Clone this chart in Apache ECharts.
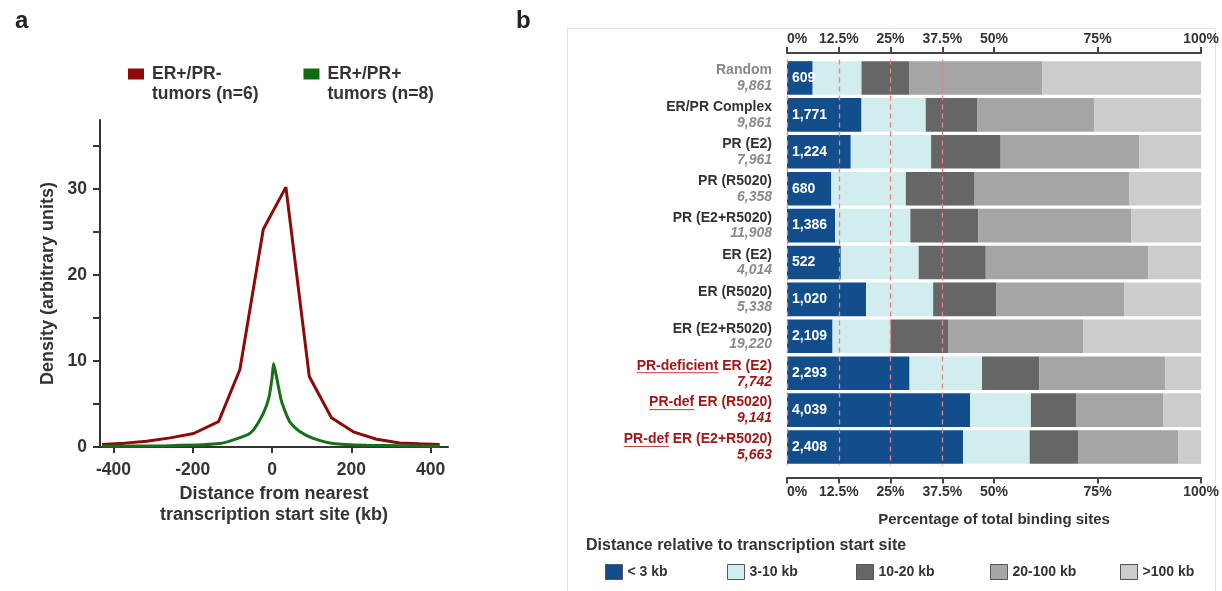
<!DOCTYPE html>
<html><head><meta charset="utf-8">
<script src="https://cdn.jsdelivr.net/npm/echarts@6/dist/echarts.min.js"></script>
<style>html,body{margin:0;padding:0;background:#fff}#c{width:1222px;height:591px}</style>
</head><body><div id="c"></div>
<script>
// ---------- Panel a data ----------
const seriesNamesA = ['ER+/PR-\ntumors (n=6)', 'ER+/PR+\ntumors (n=8)'];
const redCurve = [[-429,0.3],[-372,0.45],[-316,0.67],[-257,1.06],[-198,1.57],[-135,2.94],[-81,9.0],[-22,25.3],[35,30.2],[94,8.2],[150,3.4],[205,1.76],[264,0.9],[322,0.47],[372,0.38],[423,0.3]];
const greenCurve = [[-429,0.1],[-265,0.15],[-131,0.4],[-64,1.37],[-47,1.96],[-22,3.9],[-8,5.7],[0,8.0],[4,9.7],[12,8.0],[24,5.3],[45,2.9],[70,1.8],[104,1.0],[154,0.4],[238,0.2],[423,0.1]];
const densityTicks = [0,5,10,15,20,25,30,35];
const densityLabels = [0,10,20,30];
const distanceTicks = [-400,-200,0,200,400];

// ---------- Panel b data ----------
const categories = ['Random','ER/PR Complex','PR (E2)','PR (R5020)','PR (E2+R5020)','ER (E2)','ER (R5020)','ER (E2+R5020)','PR-deficient ER (E2)','PR-def ER (R5020)','PR-def ER (E2+R5020)'];
const totals = ['9,861','9,861','7,961','6,358','11,908','4,014','5,338','19,220','7,742','9,141','5,663'];
const under3Counts = ['609','1,771','1,224','680','1,386','522','1,020','2,109','2,293','4,039','2,408'];
const deficientRows = [false,false,false,false,false,false,false,false,true,true,true];
const pctLt3 = [6.2,18.0,15.4,10.7,11.6,13.0,19.1,11.0,29.6,44.2,42.5];
const pct3to10 = [11.8,15.5,19.4,18.0,18.2,18.8,16.2,14.0,17.5,14.7,16.1];
const pct10to20 = [11.5,12.5,16.8,16.6,16.4,16.2,15.3,13.9,13.8,10.9,11.7];
const pct20to100 = [32.1,28.2,33.5,37.3,37.0,39.2,30.8,32.6,30.5,21.0,24.2];
const pctOver100 = [38.4,25.8,14.9,17.4,16.8,12.8,18.6,28.5,8.6,9.2,5.5];
const pctTicks = [0,12.5,25,37.5,50,75,100];
const refLines = [0,12.5,25,37.5];
const distanceClasses = ['< 3 kb','3-10 kb','10-20 kb','20-100 kb','>100 kb'];
const classColors = ['#114e8b','#d2eded','#666666','#a5a5a5','#cccccc'];
const legendLefts = [600, 722, 851, 985, 1115];

const F = 'Liberation Sans, Arial, sans-serif';
const TXT = '#333';

// underline image for rich text
const ul = document.createElement('canvas');
ul.width = 4; ul.height = 17;
const ctx = ul.getContext('2d');
ctx.fillStyle = '#c0392b';
ctx.fillRect(0, 15, 4, 1);

const chart = echarts.init(document.getElementById('c'), null, {renderer: 'canvas'});

const segs = [pctLt3, pct3to10, pct10to20, pct20to100, pctOver100];
const barSeries = segs.map((arr, i) => {
  const s = {
    name: distanceClasses[i], type: 'bar', stack: 'b', xAxisIndex: 1, yAxisIndex: 1,
    barCategoryGap: '9%', data: arr, itemStyle: {color: classColors[i]}, silent: true
  };
  if (i === 0) {
    s.label = {show: true, position: 'insideLeft', distance: 5, color: '#fff', fontFamily: F,
      fontWeight: 'bold', fontSize: 14, formatter: p => under3Counts[p.dataIndex]};
  }
  if (i === 4) {
    s.markLine = {silent: true, symbol: 'none', label: {show: false},
      lineStyle: {color: '#ee8080', type: [5, 4], width: 1.3},
      data: refLines.map(v => ({xAxis: v}))};
  }
  return s;
});

const legendB = distanceClasses.map((n, i) => ({
  data: [n], left: legendLefts[i], top: 559, itemWidth: 17, itemHeight: 15, icon: 'rect',
  itemStyle: {borderColor: '#555', borderWidth: 1},
  textStyle: {fontFamily: F, fontSize: 14, fontWeight: 'bold', color: TXT}
}));

const option = {
  animation: false,
  backgroundColor: '#fff',
  title: [
    {text: 'a', left: 10, top: 4, textStyle: {fontFamily: F, fontSize: 24, fontWeight: 'bold', color: '#222'}},
    {text: 'b', left: 511, top: 4, textStyle: {fontFamily: F, fontSize: 24, fontWeight: 'bold', color: '#222'}},
    {text: 'Distance relative to transcription start site', left: 581, top: 533,
      textStyle: {fontFamily: F, fontSize: 16, fontWeight: 'bold', color: TXT}}
  ],
  graphic: [{type: 'rect', shape: {x: 567.5, y: 28.5, width: 648, height: 570}, style: {fill: 'none', stroke: '#e2e2e2', lineWidth: 1}, z: -1}],
  legend: [
    {data: seriesNamesA, left: 128, top: 44, padding: 0, itemWidth: 16, itemHeight: 11, itemGap: 45, icon: 'rect',
      formatter: n => ' \n' + n,
      textStyle: {fontFamily: F, fontSize: 17.5, fontWeight: 'bold', color: TXT, lineHeight: 20, padding: [0, 0, 0, 3]}}
  ].concat(legendB),
  grid: [
    {left: 100, width: 348, top: 120, height: 327},
    {left: 787, width: 415, top: 59.5, height: 406}
  ],
  xAxis: [
    {gridIndex: 0, type: 'value', min: -434, max: 444,
      axisLine: {show: true, onZero: false, lineStyle: {color: '#333', width: 2}},
      axisTick: {show: true, length: 6, lineStyle: {color: '#333', width: 2}, customValues: distanceTicks},
      axisLabel: {customValues: distanceTicks, margin: 14, fontFamily: F, fontSize: 17.5, fontWeight: 'bold', color: TXT},
      splitLine: {show: false},
      name: 'Distance from nearest\ntranscription start site (kb)', nameLocation: 'middle', nameGap: 37,
      nameTextStyle: {fontFamily: F, fontSize: 18, fontWeight: 'bold', color: TXT, lineHeight: 21}},
    {gridIndex: 1, type: 'value', min: 0, max: 100, position: 'bottom', offset: 12,
      axisLine: {show: true, lineStyle: {color: '#444', width: 2}},
      axisTick: {show: true, length: 6, lineStyle: {color: '#444', width: 2}, customValues: pctTicks},
      axisLabel: {customValues: pctTicks, formatter: v => v + '%', margin: 8, alignMinLabel: 'left', fontFamily: F, fontSize: 14, fontWeight: 'bold', color: TXT},
      splitLine: {show: false},
      name: 'Percentage of total binding sites', nameLocation: 'middle', nameGap: 35,
      nameTextStyle: {fontFamily: F, fontSize: 15, fontWeight: 'bold', color: TXT}},
    {gridIndex: 1, type: 'value', min: 0, max: 100, position: 'top', offset: 6.5,
      axisLine: {show: true, lineStyle: {color: '#444', width: 2}},
      axisTick: {show: true, length: 6, lineStyle: {color: '#444', width: 2}, customValues: pctTicks},
      axisLabel: {customValues: pctTicks, formatter: v => v + '%', margin: 7, alignMinLabel: 'left', fontFamily: F, fontSize: 14, fontWeight: 'bold', color: TXT},
      splitLine: {show: false}}
  ],
  yAxis: [
    {gridIndex: 0, type: 'value', min: 0, max: 38,
      axisLine: {show: true, onZero: false, lineStyle: {color: '#333', width: 2}},
      axisTick: {show: true, length: 7, lineStyle: {color: '#333', width: 2}, customValues: densityTicks},
      axisLabel: {customValues: densityLabels, margin: 13, fontFamily: F, fontSize: 17.5, fontWeight: 'bold', color: TXT},
      splitLine: {show: false},
      name: 'Density (arbitrary units)', nameLocation: 'middle', nameGap: 43,
      nameTextStyle: {fontFamily: F, fontSize: 18, fontWeight: 'bold', color: TXT}},
    {gridIndex: 1, type: 'category', inverse: true, data: categories,
      axisLine: {show: false}, axisTick: {show: false},
      axisLabel: {margin: 15, lineHeight: 15,
        formatter: (v, i) => {
          if (deficientRows[i]) {
            const k = v.indexOf(' ');
            return '{u|' + v.slice(0, k) + '}{r|' + v.slice(k) + '}\n{tr|' + totals[i] + '}';
          }
          return (i === 0 ? '{ng|' : '{n|') + v + '}\n{t|' + totals[i] + '}';
        },
        rich: {
          n: {fontFamily: F, fontSize: 14, fontWeight: 'bold', color: TXT, lineHeight: 16},
          ng: {fontFamily: F, fontSize: 14, fontWeight: 'bold', color: '#888', lineHeight: 16},
          t: {fontFamily: F, fontSize: 14, fontWeight: 'bold', fontStyle: 'italic', color: '#8a8a8a', lineHeight: 15},
          u: {fontFamily: F, fontSize: 14, fontWeight: 'bold', color: '#a11818', lineHeight: 17, height: 17, backgroundColor: {image: ul}},
          r: {fontFamily: F, fontSize: 14, fontWeight: 'bold', color: '#a11818', lineHeight: 17},
          tr: {fontFamily: F, fontSize: 14, fontWeight: 'bold', fontStyle: 'italic', color: '#a11818', lineHeight: 15}
        }}}
  ],
  series: [
    {name: seriesNamesA[0], type: 'line', xAxisIndex: 0, yAxisIndex: 0, data: redCurve, showSymbol: false,
      lineStyle: {color: '#8c0a0a', width: 3}, itemStyle: {color: '#8c0a0a'}, silent: true},
    {name: seriesNamesA[1], type: 'line', xAxisIndex: 0, yAxisIndex: 0, data: greenCurve, showSymbol: false, smooth: 0.2,
      lineStyle: {color: '#16701a', width: 3}, itemStyle: {color: '#0f6b12'}, silent: true}
  ].concat(barSeries)
};
chart.setOption(option);
</script>
</body></html>
